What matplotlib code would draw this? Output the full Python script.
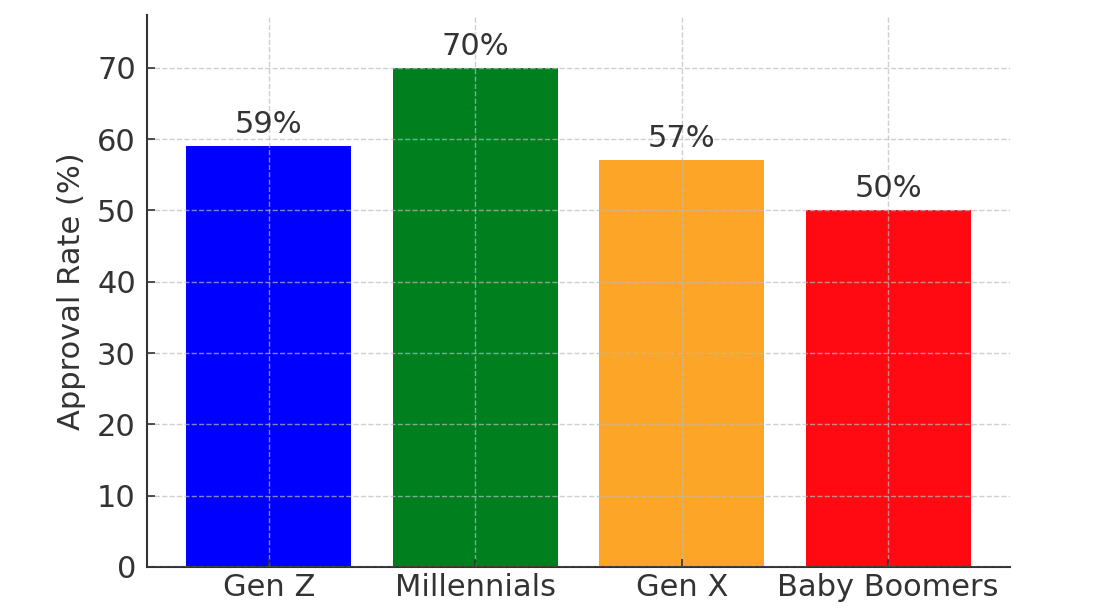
import matplotlib
matplotlib.use("Agg")
import matplotlib.pyplot as plt

categories = ["Gen Z", "Millennials", "Gen X", "Baby Boomers"]
approval = [59, 70, 57, 50]
colors = ["#0000ff", "#007f1f", "#fca526", "#ff0a12"]
yticks = [0, 10, 20, 30, 40, 50, 60, 70]

plt.rcParams['font.family'] = ['DejaVu Sans']
fig = plt.figure(figsize=(11.08, 6.10), dpi=100)
ax = fig.add_axes([0.1327, 0.0705, 0.7789, 0.9049])

bars = ax.bar(categories, approval, color=colors, width=0.8)
for b, v in zip(bars, approval):
    ax.text(b.get_x() + b.get_width() / 2, v + 1.0, f"{v}%", ha="center", va="bottom",
            fontsize=22, color="#333333")

ax.set_ylim(0, 77.4)
ax.set_yticks(yticks)
ax.set_ylabel("Approval Rate (%)", fontsize=22, color="#333333", labelpad=8)
ax.tick_params(axis="both", direction="in", labelsize=22, labelcolor="#333333",
               colors="#333333", length=6, width=1.2)
ax.tick_params(axis="y", pad=8)
ax.tick_params(axis="x", pad=4)
ax.grid(True, linestyle="--", color="#bbbbbb", alpha=0.7, linewidth=1)
ax.set_axisbelow(False)
for s in ["top", "right"]:
    ax.spines[s].set_visible(False)
for s in ["left", "bottom"]:
    ax.spines[s].set_color("#333333")
    ax.spines[s].set_linewidth(1.5)

fig.savefig("out.png", dpi=100)
